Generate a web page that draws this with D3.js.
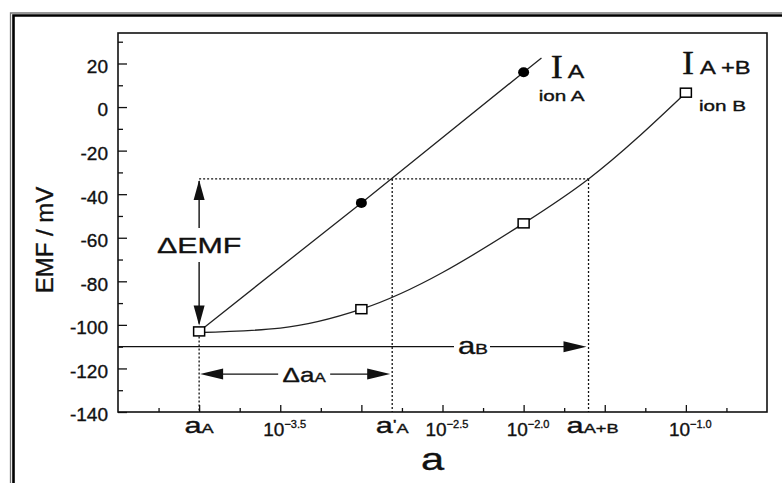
<!DOCTYPE html>
<html>
<head>
<meta charset="utf-8">
<script src="https://cdn.jsdelivr.net/npm/d3@7"></script>
<style>
  body { margin: 0; background: #fff; }
  svg { display: block; }
  text { font-family: Arial, "Liberation Sans", Helvetica, sans-serif; fill: #111; stroke: #111; stroke-width: 0.35px; }
</style>
</head>
<body>
<div id="chart"></div>
<script>
// activities are kept as log10(a)
var ionALogA = [-4.0, -3.0, -2.0, -1.89];
var ionAEmf = [-103, -44, 16, 22.5];
var ionADotLogA = [-3.0, -2.0];
var ionADotEmf = [-44, 16];

var ionBLogA = [-4.0, -3.5, -3.0, -2.0, -1.6, -1.0];
var ionBEmf = [-103.5, -101.5, -92.8, -53.4, -33, 6.6];
var ionBBoxLogA = [-4.0, -3.0, -2.0, -1.0];
var ionBBoxEmf = [-103, -92.8, -53.4, 6.6];

var yMajor = [20, 0, -20, -40, -60, -80, -100, -120, -140];
var yMinor = [30, 10, -10, -30, -50, -70, -90, -110, -130];
var xMajor = [-4.0, -3.5, -3.0, -2.5, -2.0, -1.5, -1.0];
var xMinor = [-4.25, -3.75, -3.25, -2.75, -2.25, -1.75, -1.25, -0.75];
var xPowLogA = [-3.5, -2.5, -2.0, -1.0];
var xPowText = ['\u22123.5', '\u22122.5', '\u22122.0', '\u22121.0'];

// aA, a'A, aA+B
var markLogA = [-4.0, -2.81, -1.6];
var markPrime = ['', '\'', ''];
var markSub = ['A', 'A', 'A+B'];

var emfRef = -33;     // dotted level
var emfB = -110;      // aB arrow level
var emfDeltaA = -122.6;

(function () {
  var width = 782;
  var height = 483;
  var left = 118, right = 767, top = 33, bottom = 412;
  var wide = 1.38;
  var serif = '"Liberation Serif", "Times New Roman", serif';

  var svg = d3.select('#chart').append('svg')
    .attr('width', width)
    .attr('height', height);

  var x = d3.scaleLog()
    .domain([Math.pow(10, -4.5), Math.pow(10, -0.5)])
    .range([left, right]);
  var y = d3.scaleLinear()
    .domain([-140, 34])
    .range([bottom, top]);
  function px(l) { return x(Math.pow(10, l)); }

  // outer double frame
  svg.append('path')
    .attr('d', 'M10.5,' + height + 'V13H' + width)
    .attr('fill', 'none').attr('stroke', '#777').attr('stroke-width', 1.3);
  svg.append('path')
    .attr('d', 'M13.5,' + height + 'V15.5H' + width)
    .attr('fill', 'none').attr('stroke', '#000').attr('stroke-width', 2.6);

  // y axis
  var yAxis = svg.append('g')
    .attr('transform', 'translate(' + left + ',0)')
    .call(d3.axisLeft(y).tickValues(yMajor).tickSizeInner(-9).tickSizeOuter(0)
      .tickPadding(10).tickFormat(function (d) { return String(d); }));
  yAxis.select('.domain').remove();
  yAxis.selectAll('line').attr('stroke', '#111').attr('stroke-width', 1.3);
  yAxis.selectAll('text')
    .attr('dy', '0.47em')
    .style('font-size', '19px')
    .style('font-family', 'Arial, "Liberation Sans", sans-serif')
    .attr('fill', '#111');
  var yMin = svg.append('g')
    .attr('transform', 'translate(' + left + ',0)')
    .call(d3.axisLeft(y).tickValues(yMinor).tickSizeInner(-5).tickSizeOuter(0).tickFormat(''));
  yMin.select('.domain').remove();
  yMin.selectAll('line').attr('stroke', '#111').attr('stroke-width', 1.3);

  // x axis (ticks point inward)
  var xAxis = svg.append('g')
    .attr('transform', 'translate(0,' + bottom + ')')
    .call(d3.axisBottom(x).tickValues(xMajor.map(function (l) { return Math.pow(10, l); }))
      .tickSizeInner(-7).tickSizeOuter(0).tickFormat(''));
  xAxis.select('.domain').remove();
  xAxis.selectAll('line').attr('stroke', '#111').attr('stroke-width', 1.3);
  var xMin = svg.append('g')
    .attr('transform', 'translate(0,' + bottom + ')')
    .call(d3.axisBottom(x).tickValues(xMinor.map(function (l) { return Math.pow(10, l); }))
      .tickSizeInner(-4).tickSizeOuter(0).tickFormat(''));
  xMin.select('.domain').remove();
  xMin.selectAll('line').attr('stroke', '#111').attr('stroke-width', 1.3);

  // plot frame
  svg.append('rect')
    .attr('x', left).attr('y', top)
    .attr('width', right - left).attr('height', bottom - top)
    .attr('fill', 'none').attr('stroke', '#111').attr('stroke-width', 1.6);

  // text helper: parts = [text, size, dy, family]
  function label(g, lx, ly, parts, sx, anchor) {
    var t = g.append('text')
      .attr('transform', 'translate(' + lx + ',' + ly + ') scale(' + sx + ',1)')
      .attr('text-anchor', anchor || 'middle');
    parts.forEach(function (p) {
      var s = t.append('tspan').style('font-size', p[1] + 'px').text(p[0]);
      if (p[2]) s.attr('dy', p[2]);
      if (p[3]) s.style('font-family', p[3]);
    });
    return t;
  }

  // 10^n tick labels
  xPowLogA.forEach(function (l, i) {
    label(svg, px(l) - 17, 436, [['10', 19], [xPowText[i], 11, -8]], 1, 'start');
  });
  // activity marks on x axis
  markLogA.forEach(function (l, i) {
    var parts = [['a', 22]];
    if (markPrime[i]) parts.push([markPrime[i], 13, -4]);
    parts.push([markSub[i], 13, markPrime[i] ? 4 : 0]);
    label(svg, px(l) + (i === 2 ? 4 : 0), 433, parts, 1.4, 'middle');
  });

  // axis titles
  label(svg, (left + right) / 2 - 10, 470, [['a', 32]], 1.3, 'middle');
  svg.append('text')
    .attr('transform', 'translate(53,240) rotate(-90)')
    .attr('text-anchor', 'middle')
    .style('font-size', '24px')
    .text('EMF / mV');

  // dotted guides
  var dots = svg.append('g')
    .attr('fill', 'none').attr('stroke', '#111')
    .attr('stroke-width', 1.3).attr('stroke-dasharray', '2,2');
  dots.append('line')
    .attr('x1', px(markLogA[0])).attr('x2', px(markLogA[2]))
    .attr('y1', y(emfRef)).attr('y2', y(emfRef));
  dots.append('line')
    .attr('x1', px(markLogA[0])).attr('x2', px(markLogA[0]))
    .attr('y1', y(ionBBoxEmf[0]) + 5).attr('y2', bottom);
  [1, 2].forEach(function (i) {
    dots.append('line')
      .attr('x1', px(markLogA[i])).attr('x2', px(markLogA[i]))
      .attr('y1', y(emfRef)).attr('y2', bottom);
  });

  // arrows
  function head(g, tx, ty, dir) {
    var L = 20, W = 5.5, p;
    if (dir === 'up') p = [[tx, ty], [tx - W, ty + L], [tx + W, ty + L]];
    if (dir === 'down') p = [[tx, ty], [tx - W, ty - L], [tx + W, ty - L]];
    if (dir === 'left') p = [[tx, ty], [tx + L + 3, ty - W], [tx + L + 3, ty + W]];
    if (dir === 'right') p = [[tx, ty], [tx - L - 3, ty - W], [tx - L - 3, ty + W]];
    g.append('path').attr('d', 'M' + p.join('L') + 'Z').attr('fill', '#111');
  }
  function seg(g, x1, y1, x2, y2) {
    g.append('line')
      .attr('x1', x1).attr('y1', y1).attr('x2', x2).attr('y2', y2)
      .attr('stroke', '#111').attr('stroke-width', 1.4);
  }
  var arr = svg.append('g');

  // delta EMF
  var ax = px(markLogA[0]);
  seg(arr, ax, y(emfRef) + 2, ax, 228);
  head(arr, ax, y(emfRef) + 1, 'up');
  seg(arr, ax, 262, ax, y(ionBBoxEmf[0]) - 8);
  head(arr, ax, y(ionBBoxEmf[0]) - 6, 'down');
  label(svg, ax, 253, [['\u0394EMF', 22]], wide, 'middle');

  // delta aA
  var dy = y(emfDeltaA);
  var x1 = px(markLogA[0]) + 1, x2 = px(markLogA[1]) - 2;
  var tc = (x1 + x2) / 2 + 9;
  seg(arr, x1 + 5, dy, tc - 26, dy);
  seg(arr, tc + 26, dy, x2 - 5, dy);
  head(arr, x1, dy, 'left');
  head(arr, x2, dy, 'right');
  label(svg, tc, dy + 8, [['\u0394a', 20], ['A', 13]], 1.3, 'middle');

  // aB
  var by = y(emfB);
  var bTip = px(markLogA[2]) - 2;
  var bc = 473;
  seg(arr, left, by, bc - 19, by);
  seg(arr, bc + 17, by, bTip - 5, by);
  head(arr, bTip, by, 'right');
  label(svg, bc, by + 7, [['a', 23], ['B', 14]], 1.35, 'middle');

  // curves
  var line = d3.line()
    .x(function (d) { return px(d[0]); })
    .y(function (d) { return y(d[1]); });
  svg.append('path')
    .datum(d3.zip(ionALogA, ionAEmf))
    .attr('d', line)
    .attr('fill', 'none').attr('stroke', '#222').attr('stroke-width', 1.3);
  svg.append('path')
    .datum(d3.zip(ionBLogA, ionBEmf))
    .attr('d', line.curve(d3.curveMonotoneX))
    .attr('fill', 'none').attr('stroke', '#222').attr('stroke-width', 1.3);

  // markers
  svg.selectAll('.dot')
    .data(d3.zip(ionADotLogA, ionADotEmf))
    .enter().append('ellipse')
    .attr('class', 'dot')
    .attr('cx', function (d) { return px(d[0]); })
    .attr('cy', function (d) { return y(d[1]); })
    .attr('rx', 5.5).attr('ry', 5)
    .attr('fill', '#000');
  svg.selectAll('.box')
    .data(d3.zip(ionBBoxLogA, ionBBoxEmf))
    .enter().append('rect')
    .attr('class', 'box')
    .attr('x', function (d) { return px(d[0]) - 5.5; })
    .attr('y', function (d) { return y(d[1]) - 4.5; })
    .attr('width', 11).attr('height', 9)
    .attr('fill', '#fff').attr('stroke', '#000').attr('stroke-width', 1.5);

  // series labels
  var ea = [px(ionADotLogA[1]), y(ionADotEmf[1])];
  label(svg, ea[0] + 27, ea[1] + 6, [['I', 33, 0, serif]], 1.1, 'start');
  label(svg, ea[0] + 44, ea[1] + 6, [['A', 19]], 1.3, 'start');
  label(svg, ea[0] + 15, ea[1] + 29, [['ion A', 15]], 1.38, 'start');
  var eb = [px(ionBBoxLogA[3]), y(ionBBoxEmf[3])];
  label(svg, eb[0] - 4, eb[1] - 19, [['I', 33, 0, serif]], 1.1, 'start');
  label(svg, eb[0] + 14, eb[1] - 19, [['A +B', 19]], 1.25, 'start');
  label(svg, eb[0] + 13, eb[1] + 18, [['ion B', 15]], 1.38, 'start');
})();
</script>
</body>
</html>
